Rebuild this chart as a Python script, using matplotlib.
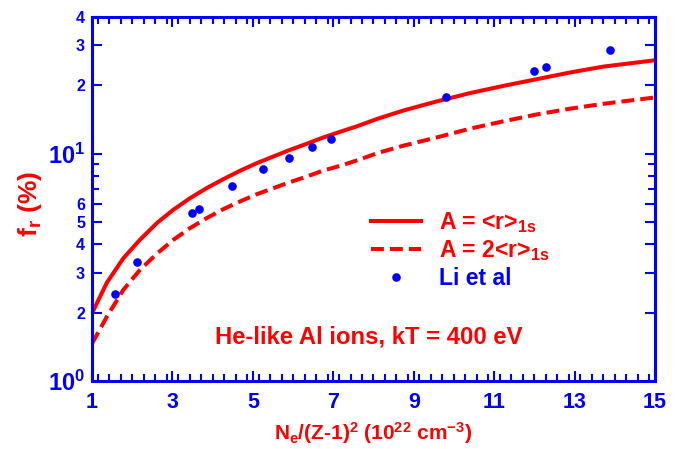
import matplotlib
matplotlib.use("Agg")
import matplotlib.pyplot as plt
from matplotlib.ticker import FixedLocator, FixedFormatter, MultipleLocator

plt.rcParams["font.family"] = ["Liberation Sans", "DejaVu Sans"]
plt.rcParams["font.weight"] = "bold"
plt.rcParams["axes.labelweight"] = "bold"
plt.rcParams["mathtext.fontset"] = "custom"
plt.rcParams["mathtext.rm"] = "Liberation Sans:bold"
plt.rcParams["mathtext.it"] = "Liberation Sans:bold"
plt.rcParams["mathtext.bf"] = "Liberation Sans:bold"

BLUE = "#0000ff"
RED = "#ff0000"

# f_r for A = <r>_1s
solid_x = [1.02, 1.37, 1.78, 2.19, 2.61, 3.02, 3.44, 3.85, 4.27, 4.68, 5.10, 5.51,
           5.92, 6.34, 6.75, 7.17, 7.58, 8.12, 8.74, 9.57, 10.40, 11.23, 12.06,
           12.89, 13.72, 15.0]
solid_y = [2.02, 2.71, 3.47, 4.18, 4.95, 5.67, 6.38, 7.06, 7.74, 8.42, 9.10, 9.73,
           10.4, 11.07, 11.8, 12.5, 13.2, 14.3, 15.5, 17.0, 18.5, 19.9, 21.3,
           22.8, 24.2, 25.8]

# f_r for A = 2<r>_1s
dashed_x = [1.0, 1.37, 1.78, 2.19, 2.61, 3.02, 3.44, 3.85, 4.27, 4.68, 5.10, 5.51,
            5.92, 6.34, 6.75, 7.17, 7.58, 8.12, 8.74, 9.57, 10.40, 11.23, 12.06,
            12.89, 13.72, 15.0]
dashed_y = [1.46, 1.92, 2.52, 3.08, 3.63, 4.18, 4.71, 5.21, 5.71, 6.17, 6.64, 7.06,
            7.50, 7.94, 8.44, 8.85, 9.34, 10.1, 10.85, 11.8, 12.9, 13.9, 14.9,
            15.8, 16.6, 17.7]

# Li et al points
li_x = [1.56, 2.11, 3.49, 3.66, 4.48, 5.26, 5.91, 6.46, 6.94, 9.80, 11.99, 12.28, 13.87]
li_y = [2.41, 3.34, 5.48, 5.74, 7.23, 8.59, 9.63, 10.7, 11.6, 17.7, 23.2, 24.2, 28.7]

y_ticks = [1, 2, 3, 4, 5, 6, 10, 20, 30, 40]
y_labels = [r"$10^{0}$", "2", "3", "4", "5", "6", r"$10^{1}$", "2", "3", "4"]
y_minor = [7, 8, 9]
x_ticks = [1, 3, 5, 7, 9, 11, 13, 15]

fig = plt.figure(figsize=(6.81, 4.49), dpi=100)
ax = fig.add_axes([92 / 681, 1 - 381 / 449, 563 / 681, 364 / 449])

ax.plot(solid_x, solid_y, "-", color=RED, lw=2.9, label=r"A = <r>$_{\rm 1s}$")
ax.plot(dashed_x, dashed_y, "--", color=RED, lw=2.9, dashes=(3.2, 1.5),
        label=r"A = 2<r>$_{\rm 1s}$")
ax.plot(li_x, li_y, "o", color=BLUE, ms=6.2, mec="none", label="Li et al")

ax.set_yscale("log")
ax.set_xlim(1, 15)
ax.set_ylim(1, 40)

ax.yaxis.set_major_locator(FixedLocator(y_ticks))
ax.yaxis.set_major_formatter(FixedFormatter(y_labels))
ax.yaxis.set_minor_locator(FixedLocator(y_minor))
ax.yaxis.set_minor_formatter(FixedFormatter([""] * len(y_minor)))
ax.xaxis.set_major_locator(FixedLocator(x_ticks))
ax.xaxis.set_minor_locator(MultipleLocator(2 / 7))

for side in ax.spines.values():
    side.set_color(BLUE)
    side.set_linewidth(2.2)
ax.tick_params(which="both", direction="in", top=True, right=True,
               color=BLUE, labelcolor=BLUE, width=1.5)
ax.tick_params(which="major", length=7.5)
ax.tick_params(which="minor", length=5)
ax.tick_params(axis="x", which="major", labelsize=15.5, pad=8)
ax.tick_params(axis="y", which="major", labelsize=11.5, pad=5)
for lbl in ax.get_yticklabels():
    if lbl.get_text().startswith("$"):
        lbl.set_fontsize(17)

ax.set_xlabel(r"N$_{\rm e}$/(Z-1)$^{2}$ (10$^{22}$ cm$^{-3}$)",
              color=RED, fontsize=15)
ax.xaxis.set_label_coords(0.5, -0.108)
ax.set_ylabel(r"f$_{\rm r}$ (%)", color=RED, fontsize=19)
ax.yaxis.set_label_coords(-0.086, 0.486)

ax.text(0.491, 0.12, "He-like Al ions, kT = 400 eV", transform=ax.transAxes,
        color=RED, fontsize=17.2, ha="center", va="center")

leg = ax.legend(loc="upper left", bbox_to_anchor=(0.495, 0.47), frameon=False,
                fontsize=16.5, handlelength=2.21, handletextpad=0.76,
                labelspacing=0.15, borderpad=0, borderaxespad=0, numpoints=1)
for txt, c in zip(leg.get_texts(), [RED, RED, BLUE]):
    txt.set_color(c)

fig.savefig("out.png", dpi=100)
